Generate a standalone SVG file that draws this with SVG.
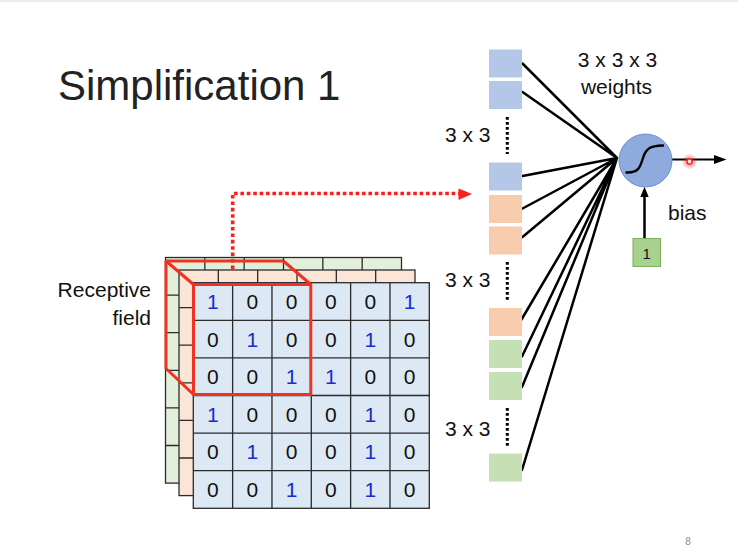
<svg xmlns="http://www.w3.org/2000/svg" xmlns:xlink="http://www.w3.org/1999/xlink" width="738" height="554" viewBox="0 0 738 554">
<style>
text{font-family:"Liberation Sans",Arial,sans-serif;fill:#111}
.lbl{font-size:21px}
.num{font-size:21px;text-anchor:middle}
.one{fill:#1a2bd0}
.gline{fill:none;stroke:#2b2b2b;stroke-width:1.3}
.cb{fill:#dde8f5;stroke:#2b2b2b;stroke-width:1.3}
.co{fill:#fce4d6;stroke:#2b2b2b;stroke-width:1.3}
.cg{fill:#e2efda;stroke:#2b2b2b;stroke-width:1.3}
.sqb{fill:#b4c7e7}
.sqo{fill:#f8cbad}
.sqg{fill:#c5e0b4}
.w{stroke:#000;stroke-width:2.5;stroke-linecap:round;fill:none}
.dots{stroke:#000;stroke-width:3;stroke-dasharray:2.8 2.2;fill:none}
.red{stroke:#ee3322;stroke-width:3;fill:none;stroke-linejoin:round}
</style>
<defs>
<path id="gl" d="M39.33,0V225.6M78.67,0V225.6M118,0V225.6M157.33,0V225.6M196.67,0V225.6M0,37.6H236M0,75.2H236M0,112.8H236M0,150.4H236M0,188H236"/>
<radialGradient id="glow"><stop offset="0" stop-color="#ff2020" stop-opacity="0.75"/><stop offset="1" stop-color="#ff2020" stop-opacity="0"/></radialGradient>
</defs>
<rect width="738" height="554" fill="#fff"/>
<rect width="738" height="2" fill="#ececec"/>

<g id="title"><text x="58" y="100" style="font-size:42px;fill:#222">Simplification 1</text></g>
<g id="label-receptive"><text class="lbl" x="151" y="296.7" text-anchor="end">Receptive</text><text class="lbl" x="151" y="325" text-anchor="end">field</text></g>

<g id="layer-green" transform="translate(165.5,257.5)">
<rect class="cg" width="236" height="225.6"/><use href="#gl" class="gline"/>
<text class="num one" x="19.67" y="26.3">1</text><text class="num" x="59" y="26.3">0</text><text class="num" x="98.33" y="26.3">0</text><text class="num" x="137.67" y="26.3">0</text><text class="num" x="177" y="26.3">0</text><text class="num one" x="216.33" y="26.3">1</text>
</g>

<g id="connectors">
<path d="M232.7,269V193.5H459" stroke="#ff1e1e" stroke-width="3.6" stroke-dasharray="3.6 2.8" fill="none"/>
<polygon points="458.5,188.5 472,194 458.5,200" fill="#ff1e1e"/>
<path class="w" d="M522.5,63.5L617,158M522.5,92L617,158M522.5,176L617,158M522.5,208.5L617,158M522.5,237L617,158M521.5,319.5L617,158M522,356.5L617,158M522,387L617,158M522,470L617,158"/>
<path d="M672,159.5H715" stroke="#000" stroke-width="2"/>
<polygon points="714,155 726.5,159.5 714,164" fill="#000"/>
<path d="M644.5,238V195" stroke="#000" stroke-width="2.5"/>
<polygon points="640.3,197 644.5,186.8 648.7,197" fill="#000"/>
</g>

<g id="layer-orange" transform="translate(179,270)">
<rect class="co" width="236" height="225.6"/><use href="#gl" class="gline"/>
</g>

<g id="layer-blue" transform="translate(193.3,282.7)">
<rect class="cb" width="236" height="225.6"/><use href="#gl" class="gline"/>
<text class="num one" x="19.67" y="26.3">1</text><text class="num" x="59" y="26.3">0</text><text class="num" x="98.33" y="26.3">0</text><text class="num" x="137.67" y="26.3">0</text><text class="num" x="177" y="26.3">0</text><text class="num one" x="216.33" y="26.3">1</text>
<text class="num" x="19.67" y="63.9">0</text><text class="num one" x="59" y="63.9">1</text><text class="num" x="98.33" y="63.9">0</text><text class="num" x="137.67" y="63.9">0</text><text class="num one" x="177" y="63.9">1</text><text class="num" x="216.33" y="63.9">0</text>
<text class="num" x="19.67" y="101.5">0</text><text class="num" x="59" y="101.5">0</text><text class="num one" x="98.33" y="101.5">1</text><text class="num one" x="137.67" y="101.5">1</text><text class="num" x="177" y="101.5">0</text><text class="num" x="216.33" y="101.5">0</text>
<text class="num one" x="19.67" y="139.1">1</text><text class="num" x="59" y="139.1">0</text><text class="num" x="98.33" y="139.1">0</text><text class="num" x="137.67" y="139.1">0</text><text class="num one" x="177" y="139.1">1</text><text class="num" x="216.33" y="139.1">0</text>
<text class="num" x="19.67" y="176.7">0</text><text class="num one" x="59" y="176.7">1</text><text class="num" x="98.33" y="176.7">0</text><text class="num" x="137.67" y="176.7">0</text><text class="num one" x="177" y="176.7">1</text><text class="num" x="216.33" y="176.7">0</text>
<text class="num" x="19.67" y="214.3">0</text><text class="num" x="59" y="214.3">0</text><text class="num one" x="98.33" y="214.3">1</text><text class="num" x="137.67" y="214.3">0</text><text class="num one" x="177" y="214.3">1</text><text class="num" x="216.33" y="214.3">0</text>
</g>

<g id="receptive-field">
<path class="red" d="M166,368.5V261H283.4"/>
<path class="red" d="M166,261L193.5,284.5M283.4,261L310.8,284.5M166,368.5L193.5,394.5"/>
<rect class="red" x="193.5" y="284.5" width="117.3" height="110"/>
</g>

<g id="weights-label"><text class="lbl" x="617.5" y="66.7" text-anchor="middle">3 x 3 x 3</text><text class="lbl" x="616.5" y="94" text-anchor="middle">weights</text></g>

<g id="inputs">
<rect class="sqb" x="489" y="49.5" width="33" height="28"/>
<rect class="sqb" x="489" y="81" width="33" height="28"/>
<path class="dots" d="M507.3,117V154"/>
<text class="lbl" x="445" y="141.7">3 x 3</text>
<rect class="sqb" x="489" y="162.5" width="33" height="28"/>
<rect class="sqo" x="489" y="195" width="33" height="28"/>
<rect class="sqo" x="489" y="226.5" width="33" height="28"/>
<path class="dots" d="M507.3,262V300"/>
<text class="lbl" x="445" y="286.7">3 x 3</text>
<rect class="sqo" x="489" y="308" width="33" height="28"/>
<rect class="sqg" x="489" y="340" width="33" height="28"/>
<rect class="sqg" x="489" y="372" width="33" height="28"/>
<path class="dots" d="M507.3,408V446"/>
<text class="lbl" x="445" y="436">3 x 3</text>
<rect class="sqg" x="489" y="453.5" width="33" height="28"/>
</g>

<g id="neuron">
<circle cx="645.5" cy="160.5" r="26.5" fill="#8faadc" stroke="#6e8fcf" stroke-width="1"/>
<path d="M626.5,172.5C638,173 640,168 643,158C646,148 650,146 663,145.5" fill="none" stroke="#000" stroke-width="2.4" stroke-linecap="round"/>
</g>

<g id="bias">
<rect x="633" y="238.5" width="27.5" height="28" fill="#a9d18e" stroke="#7dae5d" stroke-width="1"/>
<text x="646.7" y="258.5" text-anchor="middle" style="font-size:15px">1</text>
<text class="lbl" x="668" y="220">bias</text>
</g>

<g id="pointer">
<circle cx="689.5" cy="161.5" r="8" fill="url(#glow)"/>
<circle cx="689.5" cy="161.5" r="2.6" fill="#ffd6d6" stroke="#ee2222" stroke-width="1.4"/>
</g>

<g id="page-number"><text x="688" y="545" text-anchor="middle" style="font-size:10px;fill:#8a8a8a">8</text></g>
</svg>
